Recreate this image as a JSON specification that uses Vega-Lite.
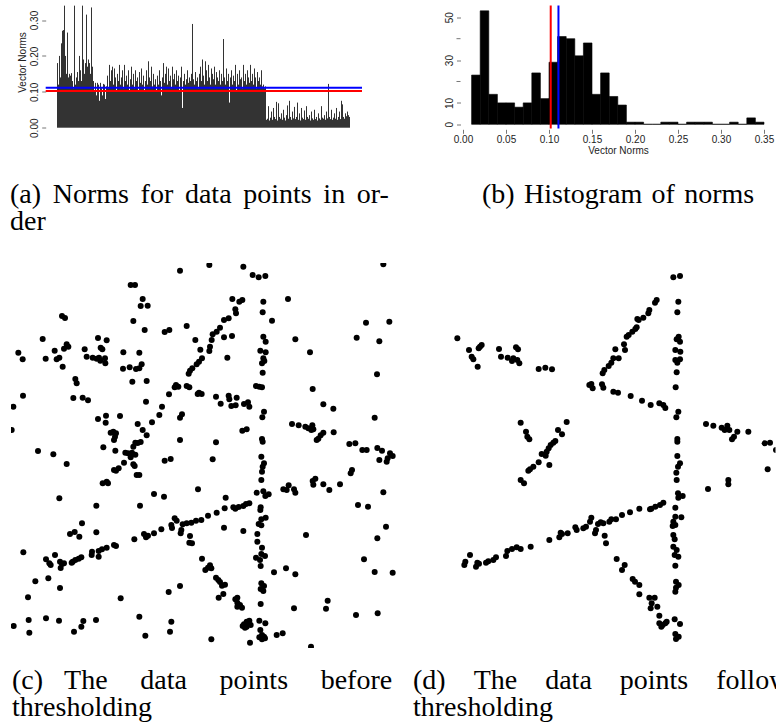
{
  "$schema": "https://vega.github.io/schema/vega-lite/v6.json",
  "padding": {"left": 10, "top": 4.5, "right": 0, "bottom": 0},
  "config": {
    "view": {"stroke": null},
    "axis": {
      "grid": false,
      "labelFont": "Liberation Sans",
      "titleFont": "Liberation Sans",
      "labelFontSize": 10,
      "titleFontSize": 10,
      "titleFontWeight": "normal",
      "labelColor": "#222",
      "titleColor": "#222",
      "tickColor": "#777",
      "tickWidth": 1,
      "labelFlush": false,
      "labelOverlap": false
    },
    "title": {
      "font": "Liberation Serif",
      "fontSize": 28,
      "fontWeight": "normal",
      "color": "#000",
      "orient": "bottom",
      "anchor": "start",
      "frame": "group",
      "baseline": "alphabetic",
      "lineHeight": 27
    }
  },
  "datasets": {
    "thresholds": [
      {"level": 0.102, "rule": "lower"},
      {"level": 0.111, "rule": "upper"}
    ],
    "norms": [
      {"i":0,"v":0.18},{"i":1,"v":0.12},{"i":2,"v":0.2},{"i":3,"v":0.14},{"i":4,"v":0.235},{"i":5,"v":0.27},{"i":6,"v":0.272},{"i":7,"v":0.34},{"i":8,"v":0.2},{"i":9,"v":0.15},
      {"i":10,"v":0.265},{"i":11,"v":0.14},{"i":12,"v":0.15},{"i":13,"v":0.145},{"i":14,"v":0.152},{"i":15,"v":0.13},{"i":16,"v":0.11},{"i":17,"v":0.34},{"i":18,"v":0.12},{"i":19,"v":0.14},
      {"i":20,"v":0.155},{"i":21,"v":0.13},{"i":22,"v":0.2},{"i":23,"v":0.16},{"i":24,"v":0.13},{"i":25,"v":0.34},{"i":26,"v":0.19},{"i":27,"v":0.15},{"i":28,"v":0.18},{"i":29,"v":0.315},
      {"i":30,"v":0.17},{"i":31,"v":0.19},{"i":32,"v":0.18},{"i":33,"v":0.15},{"i":34,"v":0.335},{"i":35,"v":0.17},{"i":36,"v":0.13},{"i":37,"v":0.1},{"i":38,"v":0.125},{"i":39,"v":0.09},
      {"i":40,"v":0.125},{"i":41,"v":0.12},{"i":42,"v":0.075},{"i":43,"v":0.125},{"i":44,"v":0.11},{"i":45,"v":0.09},{"i":46,"v":0.122},{"i":47,"v":0.12},{"i":48,"v":0.08},{"i":49,"v":0.115},
      {"i":50,"v":0.145},{"i":51,"v":0.11},{"i":52,"v":0.175},{"i":53,"v":0.13},{"i":54,"v":0.16},{"i":55,"v":0.17},{"i":56,"v":0.12},{"i":57,"v":0.165},{"i":58,"v":0.14},{"i":59,"v":0.1},
      {"i":60,"v":0.15},{"i":61,"v":0.13},{"i":62,"v":0.175},{"i":63,"v":0.12},{"i":64,"v":0.14},{"i":65,"v":0.16},{"i":66,"v":0.11},{"i":67,"v":0.175},{"i":68,"v":0.13},{"i":69,"v":0.145},
      {"i":70,"v":0.12},{"i":71,"v":0.16},{"i":72,"v":0.105},{"i":73,"v":0.135},{"i":74,"v":0.17},{"i":75,"v":0.12},{"i":76,"v":0.15},{"i":77,"v":0.11},{"i":78,"v":0.16},{"i":79,"v":0.13},
      {"i":80,"v":0.14},{"i":81,"v":0.1},{"i":82,"v":0.155},{"i":83,"v":0.125},{"i":84,"v":0.165},{"i":85,"v":0.12},{"i":86,"v":0.145},{"i":87,"v":0.1},{"i":88,"v":0.13},{"i":89,"v":0.16},
      {"i":90,"v":0.12},{"i":91,"v":0.185},{"i":92,"v":0.14},{"i":93,"v":0.13},{"i":94,"v":0.17},{"i":95,"v":0.115},{"i":96,"v":0.15},{"i":97,"v":0.12},{"i":98,"v":0.135},{"i":99,"v":0.1},
      {"i":100,"v":0.145},{"i":101,"v":0.12},{"i":102,"v":0.16},{"i":103,"v":0.13},{"i":104,"v":0.09},{"i":105,"v":0.14},{"i":106,"v":0.18},{"i":107,"v":0.125},{"i":108,"v":0.15},{"i":109,"v":0.17},
      {"i":110,"v":0.12},{"i":111,"v":0.165},{"i":112,"v":0.13},{"i":113,"v":0.145},{"i":114,"v":0.11},{"i":115,"v":0.17},{"i":116,"v":0.135},{"i":117,"v":0.15},{"i":118,"v":0.12},{"i":119,"v":0.16},
      {"i":120,"v":0.13},{"i":121,"v":0.145},{"i":122,"v":0.1},{"i":123,"v":0.14},{"i":124,"v":0.17},{"i":125,"v":0.055},{"i":126,"v":0.13},{"i":127,"v":0.15},{"i":128,"v":0.12},{"i":129,"v":0.135},
      {"i":130,"v":0.16},{"i":131,"v":0.125},{"i":132,"v":0.14},{"i":133,"v":0.13},{"i":134,"v":0.15},{"i":135,"v":0.289},{"i":136,"v":0.135},{"i":137,"v":0.12},{"i":138,"v":0.155},{"i":139,"v":0.13},
      {"i":140,"v":0.14},{"i":141,"v":0.11},{"i":142,"v":0.15},{"i":143,"v":0.17},{"i":144,"v":0.13},{"i":145,"v":0.19},{"i":146,"v":0.145},{"i":147,"v":0.12},{"i":148,"v":0.185},{"i":149,"v":0.16},
      {"i":150,"v":0.13},{"i":151,"v":0.175},{"i":152,"v":0.14},{"i":153,"v":0.12},{"i":154,"v":0.165},{"i":155,"v":0.15},{"i":156,"v":0.135},{"i":157,"v":0.17},{"i":158,"v":0.12},{"i":159,"v":0.155},
      {"i":160,"v":0.14},{"i":161,"v":0.13},{"i":162,"v":0.16},{"i":163,"v":0.12},{"i":164,"v":0.15},{"i":165,"v":0.13},{"i":166,"v":0.247},{"i":167,"v":0.14},{"i":168,"v":0.12},{"i":169,"v":0.165},
      {"i":170,"v":0.13},{"i":171,"v":0.15},{"i":172,"v":0.07},{"i":173,"v":0.14},{"i":174,"v":0.16},{"i":175,"v":0.12},{"i":176,"v":0.145},{"i":177,"v":0.13},{"i":178,"v":0.175},{"i":179,"v":0.1},
      {"i":180,"v":0.15},{"i":181,"v":0.12},{"i":182,"v":0.16},{"i":183,"v":0.135},{"i":184,"v":0.14},{"i":185,"v":0.11},{"i":186,"v":0.175},{"i":187,"v":0.13},{"i":188,"v":0.15},{"i":189,"v":0.12},
      {"i":190,"v":0.16},{"i":191,"v":0.14},{"i":192,"v":0.125},{"i":193,"v":0.175},{"i":194,"v":0.13},{"i":195,"v":0.15},{"i":196,"v":0.12},{"i":197,"v":0.165},{"i":198,"v":0.14},{"i":199,"v":0.11},
      {"i":200,"v":0.155},{"i":201,"v":0.13},{"i":202,"v":0.14},{"i":203,"v":0.12},{"i":204,"v":0.16},{"i":205,"v":0.115},{"i":206,"v":0.12},{"i":207,"v":0.11},
      {"i":208,"v":0.115},{"i":209,"v":0.022},{"i":210,"v":0.025},{"i":211,"v":0.06},{"i":212,"v":0.02},{"i":213,"v":0.028},{"i":214,"v":0.045},{"i":215,"v":0.022},{"i":216,"v":0.055},{"i":217,"v":0.03},
      {"i":218,"v":0.024},{"i":219,"v":0.072},{"i":220,"v":0.02},{"i":221,"v":0.068},{"i":222,"v":0.03},{"i":223,"v":0.025},{"i":224,"v":0.04},{"i":225,"v":0.022},{"i":226,"v":0.05},{"i":227,"v":0.028},
      {"i":228,"v":0.02},{"i":229,"v":0.035},{"i":230,"v":0.062},{"i":231,"v":0.025},{"i":232,"v":0.075},{"i":233,"v":0.03},{"i":234,"v":0.022},{"i":235,"v":0.045},{"i":236,"v":0.026},{"i":237,"v":0.058},
      {"i":238,"v":0.024},{"i":239,"v":0.03},{"i":240,"v":0.07},{"i":241,"v":0.022},{"i":242,"v":0.04},{"i":243,"v":0.02},{"i":244,"v":0.055},{"i":245,"v":0.028},{"i":246,"v":0.024},{"i":247,"v":0.048},
      {"i":248,"v":0.022},{"i":249,"v":0.06},{"i":250,"v":0.03},{"i":251,"v":0.025},{"i":252,"v":0.035},{"i":253,"v":0.02},{"i":254,"v":0.045},{"i":255,"v":0.026},{"i":256,"v":0.022},{"i":257,"v":0.05},
      {"i":258,"v":0.024},{"i":259,"v":0.03},{"i":260,"v":0.02},{"i":261,"v":0.04},{"i":262,"v":0.026},{"i":263,"v":0.022},{"i":264,"v":0.06},{"i":265,"v":0.028},{"i":266,"v":0.025},{"i":267,"v":0.035},
      {"i":268,"v":0.022},{"i":269,"v":0.045},{"i":270,"v":0.026},{"i":271,"v":0.122},{"i":272,"v":0.03},{"i":273,"v":0.024},{"i":274,"v":0.05},{"i":275,"v":0.022},{"i":276,"v":0.028},{"i":277,"v":0.04},
      {"i":278,"v":0.025},{"i":279,"v":0.055},{"i":280,"v":0.022},{"i":281,"v":0.03},{"i":282,"v":0.045},{"i":283,"v":0.024},{"i":284,"v":0.075},{"i":285,"v":0.065},{"i":286,"v":0.03},{"i":287,"v":0.025},
      {"i":288,"v":0.04},{"i":289,"v":0.032},{"i":290,"v":0.045},{"i":291,"v":0.035},{"i":292,"v":0.03}
    ],
    "hist": [
      {"lo":0.01,"hi":0.02,"count":23},{"lo":0.02,"hi":0.03,"count":53},{"lo":0.03,"hi":0.04,"count":14},{"lo":0.04,"hi":0.05,"count":10},
      {"lo":0.05,"hi":0.06,"count":10},{"lo":0.06,"hi":0.07,"count":8},{"lo":0.07,"hi":0.08,"count":10},{"lo":0.08,"hi":0.09,"count":24},
      {"lo":0.09,"hi":0.1,"count":12},{"lo":0.1,"hi":0.11,"count":29},{"lo":0.11,"hi":0.12,"count":41},{"lo":0.12,"hi":0.13,"count":40},
      {"lo":0.13,"hi":0.14,"count":32},{"lo":0.14,"hi":0.15,"count":38},{"lo":0.15,"hi":0.16,"count":14},{"lo":0.16,"hi":0.17,"count":24},
      {"lo":0.17,"hi":0.18,"count":13},{"lo":0.18,"hi":0.19,"count":9},{"lo":0.19,"hi":0.2,"count":1},{"lo":0.2,"hi":0.21,"count":1},
      {"lo":0.21,"hi":0.22,"count":0},{"lo":0.22,"hi":0.23,"count":0},{"lo":0.23,"hi":0.24,"count":1},{"lo":0.24,"hi":0.25,"count":1},
      {"lo":0.25,"hi":0.26,"count":0},{"lo":0.26,"hi":0.27,"count":1},{"lo":0.27,"hi":0.28,"count":1},{"lo":0.28,"hi":0.29,"count":1},
      {"lo":0.29,"hi":0.3,"count":0},{"lo":0.3,"hi":0.31,"count":0},{"lo":0.31,"hi":0.32,"count":1},{"lo":0.32,"hi":0.33,"count":0},
      {"lo":0.33,"hi":0.34,"count":3},{"lo":0.34,"hi":0.35,"count":1}
    ],
    "countTicks": [
      {"count": 20}, {"count": 40}
    ],
    "before": [
      {"x":628,"y":45},{"x":540,"y":62},{"x":730,"y":50},{"x":758,"y":75},{"x":776,"y":82},{"x":796,"y":78},{"x":1150,"y":43},{"x":392,"y":105},{"x":405,"y":105},{"x":428,"y":147},{"x":422,"y":168},{"x":443,"y":167},{"x":697,"y":147},{"x":718,"y":155},{"x":727,"y":150},{"x":790,"y":155},{"x":864,"y":147},
      {"x":706,"y":178},{"x":708,"y":190},{"x":788,"y":187},{"x":186,"y":198},{"x":195,"y":204},{"x":400,"y":213},{"x":816,"y":212},{"x":1098,"y":218},{"x":1168,"y":215},{"x":672,"y":210},{"x":686,"y":205},{"x":560,"y":228},{"x":434,"y":240},{"x":494,"y":246},{"x":508,"y":240},{"x":660,"y":233},{"x":650,"y":245},{"x":638,"y":253},{"x":128,"y":267},{"x":294,"y":264},{"x":320,"y":271},{"x":586,"y":270},{"x":672,"y":262},{"x":696,"y":258},{"x":635,"y":270},{"x":630,"y":290},{"x":628,"y":303},{"x":790,"y":260},{"x":797,"y":275},{"x":886,"y":268},{"x":1070,"y":263},{"x":1138,"y":274},{"x":200,"y":283},{"x":205,"y":290},{"x":192,"y":296},{"x":302,"y":293},{"x":307,"y":298},{"x":55,"y":308},{"x":68,"y":328},{"x":164,"y":302},{"x":178,"y":323},{"x":170,"y":328},{"x":137,"y":326},{"x":254,"y":298},{"x":260,"y":320},{"x":278,"y":323},{"x":290,"y":326},{"x":297,"y":323},{"x":315,"y":325},{"x":316,"y":340},{"x":301,"y":332},{"x":370,"y":307},{"x":418,"y":308},{"x":601,"y":299},{"x":781,"y":302},{"x":797,"y":307},{"x":930,"y":307},{"x":188,"y":350},{"x":606,"y":325},{"x":597,"y":335},{"x":590,"y":343},{"x":682,"y":323},{"x":790,"y":325},{"x":793,"y":333},{"x":786,"y":340},{"x":425,"y":343},{"x":418,"y":355},{"x":408,"y":357},{"x":389,"y":352},{"x":369,"y":356},{"x":577,"y":355},{"x":570,"y":362},{"x":566,"y":371},{"x":788,"y":368},{"x":1131,"y":373},{"x":226,"y":387},{"x":230,"y":400},{"x":397,"y":395},{"x":440,"y":393},
      {"x":768,"y":408},{"x":778,"y":410},{"x":786,"y":412},{"x":938,"y":417},{"x":528,"y":405},{"x":535,"y":410},{"x":524,"y":412},{"x":560,"y":408},{"x":568,"y":412},{"x":69,"y":437},{"x":507,"y":433},{"x":220,"y":444},{"x":248,"y":443},{"x":264,"y":451},{"x":597,"y":428},{"x":605,"y":432},{"x":593,"y":432},{"x":648,"y":440},{"x":686,"y":437},{"x":688,"y":448},{"x":710,"y":443},{"x":438,"y":455},{"x":662,"y":461},{"x":694,"y":468},{"x":707,"y":466},{"x":732,"y":462},{"x":744,"y":457},{"x":748,"y":470},{"x":40,"y":470},{"x":970,"y":463},{"x":1000,"y":476},{"x":486,"y":470},{"x":792,"y":485},{"x":787,"y":502},{"x":294,"y":507},{"x":318,"y":497},{"x":317,"y":518},{"x":360,"y":498},{"x":478,"y":495},{"x":546,"y":493},{"x":540,"y":503},{"x":1124,"y":503},{"x":456,"y":517},{"x":413,"y":522},{"x":876,"y":522},{"x":896,"y":526},{"x":916,"y":530},{"x":925,"y":535},{"x":937,"y":526},{"x":940,"y":538},{"x":934,"y":540},{"x":35,"y":540},{"x":428,"y":540},{"x":440,"y":556},{"x":727,"y":542},{"x":740,"y":538},{"x":332,"y":548},{"x":340,"y":545},{"x":348,"y":550},{"x":345,"y":560},{"x":342,"y":570},{"x":540,"y":570},{"x":1001,"y":547},{"x":970,"y":548},{"x":962,"y":556},{"x":955,"y":566},{"x":950,"y":570},{"x":786,"y":567},{"x":788,"y":575},{"x":422,"y":576},{"x":413,"y":579},{"x":406,"y":578},{"x":400,"y":590},
      {"x":648,"y":577},{"x":1048,"y":582},{"x":1066,"y":580},{"x":310,"y":592},{"x":346,"y":602},{"x":114,"y":603},{"x":160,"y":613},{"x":376,"y":608},{"x":384,"y":610},{"x":396,"y":608},{"x":406,"y":614},{"x":392,"y":622},{"x":1087,"y":600},{"x":1100,"y":600},{"x":1132,"y":594},{"x":1146,"y":602},{"x":1170,"y":610},{"x":1163,"y":625},{"x":1138,"y":630},{"x":1160,"y":635},{"x":1178,"y":618},{"x":784,"y":620},{"x":494,"y":632},{"x":512,"y":627},{"x":638,"y":628},{"x":200,"y":642},{"x":372,"y":638},{"x":792,"y":640},{"x":788,"y":650},{"x":786,"y":665},{"x":400,"y":643},{"x":404,"y":648},{"x":410,"y":675},{"x":418,"y":675},{"x":356,"y":655},{"x":348,"y":662},{"x":342,"y":660},{"x":1056,"y":660},{"x":1052,"y":670},{"x":784,"y":690},{"x":308,"y":700},{"x":320,"y":695},{"x":324,"y":700},{"x":946,"y":686},{"x":938,"y":693},{"x":940,"y":704},{"x":970,"y":703},{"x":988,"y":720},{"x":1020,"y":703},{"x":866,"y":706},{"x":850,"y":718},{"x":860,"y":720},{"x":882,"y":718},{"x":886,"y":728},
      {"x":594,"y":718},{"x":770,"y":728},{"x":790,"y":724},{"x":796,"y":738},{"x":806,"y":733},{"x":1150,"y":727},{"x":462,"y":732},{"x":492,"y":740},{"x":178,"y":745},{"x":677,"y":743},{"x":748,"y":760},{"x":738,"y":762},{"x":730,"y":768},{"x":716,"y":771},{"x":706,"y":776},{"x":700,"y":772},{"x":289,"y":767},{"x":420,"y":767},{"x":1074,"y":765},{"x":1104,"y":770},{"x":674,"y":775},{"x":650,"y":788},{"x":624,"y":797},{"x":782,"y":772},{"x":781,"y":780},{"x":604,"y":810},{"x":588,"y":812},{"x":574,"y":818},{"x":524,"y":805},{"x":530,"y":812},{"x":514,"y":825},{"x":516,"y":834},{"x":560,"y":820},{"x":548,"y":823},{"x":544,"y":840},{"x":542,"y":850},{"x":484,"y":838},{"x":462,"y":850},{"x":444,"y":857},{"x":432,"y":852},{"x":438,"y":862},{"x":797,"y":803},{"x":784,"y":808},{"x":776,"y":822},{"x":784,"y":826},{"x":246,"y":820},{"x":672,"y":833},{"x":730,"y":843},{"x":1158,"y":830},{"x":224,"y":846},{"x":210,"y":852},{"x":238,"y":860},{"x":289,"y":847},{"x":918,"y":855},{"x":772,"y":852},{"x":570,"y":858},{"x":568,"y":878},{"x":576,"y":880},
      {"x":1132,"y":865},{"x":403,"y":868},{"x":772,"y":875},{"x":348,"y":888},{"x":342,"y":885},{"x":320,"y":893},{"x":306,"y":898},{"x":296,"y":903},{"x":296,"y":920},{"x":276,"y":905},{"x":275,"y":915},{"x":70,"y":907},{"x":786,"y":893},{"x":784,"y":912},{"x":768,"y":923},{"x":795,"y":918},{"x":780,"y":930},{"x":244,"y":922},{"x":236,"y":926},{"x":226,"y":930},{"x":218,"y":935},{"x":215,"y":938},{"x":165,"y":915},{"x":138,"y":928},{"x":148,"y":940},{"x":152,"y":945},{"x":180,"y":935},{"x":186,"y":942},{"x":192,"y":940},{"x":182,"y":954},{"x":606,"y":926},{"x":1092,"y":928},{"x":630,"y":946},{"x":624,"y":953},{"x":634,"y":955},{"x":616,"y":960},{"x":782,"y":948},{"x":858,"y":955},{"x":886,"y":973},{"x":822,"y":967},{"x":1124,"y":966},{"x":1178,"y":968},{"x":106,"y":994},{"x":145,"y":985},{"x":648,"y":983},{"x":655,"y":990},{"x":660,"y":996},{"x":675,"y":1004},{"x":666,"y":1007},{"x":784,"y":1000},{"x":792,"y":1008},{"x":782,"y":1017},{"x":790,"y":1023},
      {"x":180,"y":1014},{"x":540,"y":1008},{"x":506,"y":1026},{"x":670,"y":1032},{"x":656,"y":1043},{"x":712,"y":1043},{"x":706,"y":1048},{"x":712,"y":1058},{"x":720,"y":1065},{"x":712,"y":1070},{"x":726,"y":1073},{"x":84,"y":1042},{"x":362,"y":1045},{"x":782,"y":1062},{"x":983,"y":1052},{"x":978,"y":1076},{"x":882,"y":1075},{"x":1068,"y":1095},{"x":1133,"y":1090},{"x":86,"y":1110},{"x":138,"y":1105},{"x":177,"y":1112},{"x":250,"y":1113},{"x":244,"y":1130},{"x":288,"y":1110},{"x":418,"y":1100},{"x":514,"y":1115},{"x":41,"y":1128},{"x":732,"y":1123},{"x":740,"y":1115},{"x":748,"y":1112},{"x":752,"y":1125},{"x":740,"y":1130},{"x":735,"y":1133},{"x":728,"y":1128},{"x":778,"y":1112},{"x":796,"y":1120},{"x":781,"y":1140},{"x":88,"y":1148},{"x":222,"y":1145},{"x":510,"y":1145},{"x":436,"y":1157},{"x":786,"y":1155},{"x":778,"y":1162},{"x":792,"y":1160},{"x":786,"y":1168},{"x":795,"y":1165},{"x":830,"y":1155},{"x":848,"y":1150},{"x":634,"y":1168},{"x":750,"y":1178},{"x":933,"y":1190}
    ],
    "after": [
      {"x":820,"y":82},{"x":840,"y":78},{"x":770,"y":150},{"x":765,"y":158},{"x":835,"y":155},{"x":832,"y":187},{"x":748,"y":180},{"x":745,"y":190},{"x":730,"y":203},{"x":716,"y":210},{"x":712,"y":207},
      {"x":710,"y":232},{"x":706,"y":237},{"x":697,"y":245},{"x":686,"y":255},{"x":680,"y":260},{"x":172,"y":265},{"x":836,"y":260},{"x":830,"y":268},{"x":840,"y":275},
      {"x":245,"y":285},{"x":240,"y":290},{"x":236,"y":295},{"x":207,"y":300},{"x":297,"y":297},{"x":348,"y":292},{"x":354,"y":298},{"x":672,"y":283},{"x":675,"y":300},{"x":646,"y":298},{"x":826,"y":300},{"x":841,"y":305},
      {"x":215,"y":320},{"x":220,"y":328},{"x":233,"y":350},{"x":303,"y":320},{"x":323,"y":323},{"x":340,"y":325},{"x":352,"y":330},{"x":358,"y":340},{"x":336,"y":333},
      {"x":656,"y":325},{"x":640,"y":325},{"x":634,"y":338},{"x":626,"y":348},{"x":613,"y":360},{"x":608,"y":370},{"x":826,"y":330},{"x":840,"y":328},{"x":832,"y":338},
      {"x":416,"y":357},{"x":436,"y":353},{"x":456,"y":358},{"x":830,"y":367},{"x":568,"y":405},{"x":578,"y":415},{"x":574,"y":402},{"x":606,"y":403},{"x":610,"y":413},{"x":827,"y":412},
      {"x":640,"y":425},{"x":654,"y":428},{"x":692,"y":438},{"x":726,"y":452},{"x":752,"y":465},{"x":778,"y":460},{"x":790,"y":465},{"x":796,"y":474},{"x":835,"y":485},{"x":829,"y":502},
      {"x":362,"y":518},{"x":378,"y":545},{"x":388,"y":568},{"x":382,"y":560},{"x":500,"y":516},{"x":474,"y":540},{"x":486,"y":553},{"x":466,"y":573},{"x":460,"y":578},{"x":452,"y":585},{"x":446,"y":595},{"x":440,"y":605},{"x":425,"y":612},{"x":437,"y":617},{"x":448,"y":645},
      {"x":918,"y":522},{"x":940,"y":527},{"x":965,"y":533},{"x":982,"y":527},{"x":988,"y":540},{"x":974,"y":540},{"x":1012,"y":545},{"x":1002,"y":560},{"x":996,"y":568},{"x":1045,"y":545},
      {"x":832,"y":567},{"x":832,"y":575},{"x":1094,"y":580},{"x":1110,"y":578},{"x":1128,"y":600},{"x":832,"y":618},{"x":840,"y":640},{"x":834,"y":650},{"x":829,"y":668},
      {"x":416,"y":637},{"x":400,"y":650},{"x":390,"y":658},{"x":385,"y":662},{"x":1103,"y":658},{"x":830,"y":690},{"x":362,"y":690},{"x":372,"y":700},{"x":985,"y":690},{"x":985,"y":703},{"x":924,"y":717},
      {"x":834,"y":730},{"x":848,"y":738},{"x":835,"y":743},{"x":790,"y":758},{"x":780,"y":765},{"x":766,"y":770},{"x":754,"y":776},{"x":750,"y":778},{"x":718,"y":776},{"x":826,"y":773},
      {"x":690,"y":787},{"x":666,"y":795},{"x":648,"y":808},{"x":634,"y":808},{"x":628,"y":815},{"x":574,"y":803},{"x":570,"y":815},{"x":558,"y":830},{"x":550,"y":835},
      {"x":594,"y":822},{"x":602,"y":817},{"x":610,"y":820},{"x":588,"y":840},{"x":585,"y":850},{"x":614,"y":857},{"x":618,"y":880},
      {"x":826,"y":800},{"x":844,"y":802},{"x":820,"y":815},{"x":826,"y":825},{"x":818,"y":828},
      {"x":526,"y":832},{"x":530,"y":840},{"x":503,"y":850},{"x":486,"y":852},{"x":478,"y":862},{"x":482,"y":848},{"x":448,"y":870},{"x":820,"y":855},{"x":824,"y":868},
      {"x":392,"y":890},{"x":362,"y":897},{"x":350,"y":892},{"x":336,"y":897},{"x":322,"y":903},{"x":318,"y":918},{"x":820,"y":890},{"x":830,"y":900},
      {"x":288,"y":922},{"x":280,"y":930},{"x":265,"y":934},{"x":258,"y":938},{"x":210,"y":915},{"x":196,"y":935},{"x":193,"y":945},{"x":228,"y":950},{"x":237,"y":941},{"x":232,"y":938},
      {"x":824,"y":915},{"x":835,"y":920},{"x":826,"y":947},{"x":650,"y":927},{"x":674,"y":945},{"x":666,"y":960},
      {"x":698,"y":987},{"x":705,"y":995},{"x":718,"y":1005},{"x":718,"y":1033},{"x":828,"y":995},{"x":836,"y":1005},{"x":828,"y":1013},{"x":826,"y":1025},
      {"x":748,"y":1043},{"x":764,"y":1043},{"x":755,"y":1060},{"x":752,"y":1075},{"x":772,"y":1070},
      {"x":778,"y":1097},{"x":778,"y":1120},{"x":788,"y":1125},{"x":796,"y":1120},{"x":800,"y":1115},{"x":784,"y":1130},{"x":824,"y":1108},{"x":840,"y":1122},
      {"x":826,"y":1152},{"x":836,"y":1160},{"x":828,"y":1167}
    ]
  },
  "columns": 2,
  "bounds": "flush",
  "align": "each",
  "spacing": {"row": 134.5, "column": 31},
  "concat": [
    {
      "width": 385,
      "height": 123,
      "title": {
        "text": ["(a)\u00a0\u2006Norms\u00a0\u2006for\u00a0\u2006data\u00a0\u2006points\u00a0\u2006in\u00a0\u2006or-", "der"],
        "orient": "bottom", "anchor": "start", "frame": "group", "baseline": "alphabetic",
        "dx": -1, "offset": 65.6
      },
      "layer": [
        {
          "data": {"name": "norms"},
          "mark": {"type": "rule", "color": "#333", "strokeWidth": 1},
          "encoding": {
            "x": {"field": "i", "type": "quantitative", "scale": {"domain": [-46.5, 338.5], "nice": false, "zero": false}, "axis": null},
            "y": {
              "field": "v", "type": "quantitative",
              "scale": {"domain": [-0.0022, 0.3404], "nice": false, "zero": false},
              "axis": {
                "values": [0, 0.05, 0.1, 0.15, 0.2, 0.25, 0.3],
                "labelExpr": "round(datum.value * 100) % 10 == 0 ? format(datum.value, '.2f') : ''",
                "labelOverlap": false,
                "labelFlush": false,
                "domain": false,
                "tickSize": 4,
                "labelAngle": -90,
                "labelAlign": "center",
                "labelBaseline": "alphabetic",
                "labelPadding": 4,
                "offset": -34.7,
                "title": "Vector Norms",
                "titleAngle": -90,
                "titleAlign": "center",
                "titleBaseline": "alphabetic",
                "titleX": -20.7,
                "titleY": 56.5
              }
            },
            "y2": {"datum": 0}
          }
        },
        {
          "mark": {"type": "rule", "color": "#777", "strokeWidth": 1},
          "encoding": {
            "x": {"datum": -11.8},
            "y": {"datum": 0},
            "y2": {"datum": 0.3}
          }
        },
        {
          "data": {"name": "thresholds"},
          "mark": {"type": "rule", "strokeWidth": 2},
          "encoding": {
            "x": {"datum": -11.8},
            "x2": {"datum": 304.5},
            "y": {"field": "level", "type": "quantitative"},
            "color": {"field": "rule", "type": "nominal", "scale": {"domain": ["lower", "upper"], "range": ["#ff0000", "#0000ff"]}, "legend": null}
          }
        }
      ]
    },
    {
      "width": 348.5,
      "height": 123,
      "title": {
        "text": "(b) \u200aHistogram \u200aof \u200anorms",
        "orient": "bottom", "anchor": "start", "frame": "group", "baseline": "alphabetic",
        "dx": 55, "offset": 47.5
      },
      "layer": [
        {
          "data": {"name": "hist"},
          "mark": {"type": "rect", "color": "#000", "stroke": "#000", "strokeWidth": 0.6},
          "encoding": {
            "x": {
              "field": "lo", "type": "quantitative",
              "scale": {"domain": [-0.04186, 0.36337], "nice": false, "zero": false},
              "axis": {
                "values": [0, 0.05, 0.1, 0.15, 0.2, 0.25, 0.3, 0.35],
                "format": ".2f",
                "labelOverlap": false,
                "labelFlush": false,
                "domain": false,
                "tickSize": 4,
                "labelAngle": 0,
                "labelBaseline": "top",
                "labelPadding": 1,
                "offset": 0.8,
                "title": "Vector Norms",
                "titleAlign": "center",
                "titleBaseline": "alphabetic",
                "titleX": 191,
                "titleY": 24.2
              }
            },
            "x2": {"field": "hi"},
            "y": {
              "field": "count", "type": "quantitative",
              "scale": {"domain": [-1.96, 55.5], "nice": false, "zero": false},
              "axis": {
                "values": [0, 10, 30, 50],
                "format": "d",
                "labelOverlap": false,
                "labelFlush": false,
                "labelBound": false,
                "domain": false,
                "tickSize": 4,
                "labelAngle": -90,
                "labelAlign": "center",
                "labelBaseline": "alphabetic",
                "labelPadding": 4,
                "offset": -33.5,
                "title": null
              }
            },
            "y2": {"datum": 0}
          }
        },
        {
          "data": {"name": "countTicks"},
          "mark": {"type": "rule", "color": "#777", "strokeWidth": 1},
          "encoding": {
            "x": {"datum": -0.00756},
            "x2": {"datum": -0.0029},
            "y": {"field": "count", "type": "quantitative"}
          }
        },
        {
          "mark": {"type": "rule", "color": "#777", "strokeWidth": 1},
          "encoding": {
            "x": {"datum": -0.0029},
            "y": {"datum": 0},
            "y2": {"datum": 50}
          }
        },
        {
          "mark": {"type": "rule", "color": "#777", "strokeWidth": 1},
          "encoding": {
            "x": {"datum": 0},
            "x2": {"datum": 0.35},
            "y": {"datum": -2.34}
          }
        },
        {
          "data": {"name": "thresholds"},
          "mark": {"type": "rule", "strokeWidth": 2},
          "encoding": {
            "x": {"field": "level", "type": "quantitative"},
            "color": {"field": "rule", "type": "nominal", "scale": {"domain": ["lower", "upper"], "range": ["#ff0000", "#0000ff"]}, "legend": null}
          }
        }
      ]
    },
    {
      "width": 385,
      "height": 385,
      "title": {
        "text": ["(c)\u2002\u00a0The\u2003\u2006data\u2003\u2006points\u2003\u2006before", "thresholding"],
        "orient": "bottom", "anchor": "start", "frame": "group", "baseline": "alphabetic",
        "dx": 1, "offset": 41
      },
      "data": {"name": "before"},
      "mark": {"type": "circle", "size": 36, "color": "#000", "opacity": 1, "clip": true},
      "encoding": {
        "x": {"field": "x", "type": "quantitative", "scale": {"domain": [33, 1188], "nice": false, "zero": false}, "axis": null},
        "y": {"field": "y", "type": "quantitative", "scale": {"domain": [39, 1194], "reverse": true, "nice": false, "zero": false}, "axis": null}
      }
    },
    {
      "width": 348.5,
      "height": 385,
      "title": {
        "text": ["(d)\u2003The\u2003data\u2003points\u2003following", "thresholding"],
        "orient": "bottom", "anchor": "start", "frame": "group", "baseline": "alphabetic",
        "dx": -14, "offset": 41
      },
      "data": {"name": "after"},
      "mark": {"type": "circle", "size": 36, "color": "#000", "opacity": 1, "clip": true},
      "encoding": {
        "x": {"field": "x", "type": "quantitative", "scale": {"domain": [81, 1126.5], "nice": false, "zero": false}, "axis": null},
        "y": {"field": "y", "type": "quantitative", "scale": {"domain": [39, 1194], "reverse": true, "nice": false, "zero": false}, "axis": null}
      }
    }
  ]
}
